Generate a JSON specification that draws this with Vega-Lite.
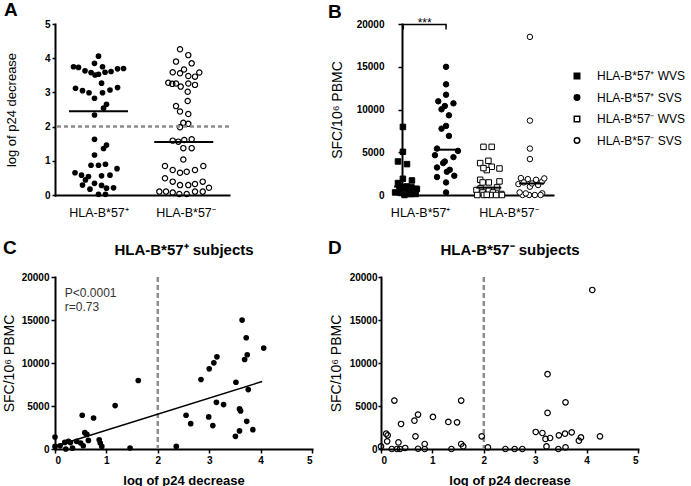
{
  "$schema": "https://vega.github.io/schema/vega-lite/v6.json",
  "padding": {"left": 2, "top": 1, "right": 0, "bottom": 0},
  "bounds": "flush",
  "columns": 2,
  "spacing": {"row": 82, "column": 69},
  "resolve": {"scale": {"fill": "independent", "shape": "independent"}, "legend": {"fill": "independent", "shape": "independent"}},
  "datasets": {
    "a": [
      {"g":"p","v":4.06,"ax":0.5},{"g":"p","v":3.85,"ax":0.454},{"g":"p","v":3.75,"ax":0.546},{"g":"p","v":3.75,"ax":0.213},{"g":"p","v":3.73,"ax":0.27},{"g":"p","v":3.63,"ax":0.345},{"g":"p","v":3.58,"ax":0.414},{"g":"p","v":3.51,"ax":0.46},{"g":"p","v":3.53,"ax":0.5},{"g":"p","v":3.59,"ax":0.575},{"g":"p","v":3.61,"ax":0.644},{"g":"p","v":3.69,"ax":0.719},{"g":"p","v":3.7,"ax":0.788},
      {"g":"p","v":3.12,"ax":0.236},{"g":"p","v":3.05,"ax":0.316},{"g":"p","v":2.99,"ax":0.391},{"g":"p","v":2.83,"ax":0.454},{"g":"p","v":3.27,"ax":0.535},{"g":"p","v":2.99,"ax":0.546},{"g":"p","v":3.07,"ax":0.632},{"g":"p","v":3.14,"ax":0.719},
      {"g":"p","v":2.65,"ax":0.592},{"g":"p","v":2.54,"ax":0.558},{"g":"p","v":2.34,"ax":0.454},
      {"g":"p","v":1.63,"ax":0.454},{"g":"p","v":1.46,"ax":0.592},{"g":"p","v":1.36,"ax":0.558},{"g":"p","v":1.17,"ax":0.454},{"g":"p","v":0.87,"ax":0.414},{"g":"p","v":0.87,"ax":0.5},{"g":"p","v":0.9,"ax":0.58},{"g":"p","v":0.77,"ax":0.713},{"g":"p","v":0.65,"ax":0.23},{"g":"p","v":0.58,"ax":0.305},{"g":"p","v":0.54,"ax":0.385},{"g":"p","v":0.44,"ax":0.35},{"g":"p","v":0.56,"ax":0.535},{"g":"p","v":0.58,"ax":0.632},{"g":"p","v":0.29,"ax":0.316},{"g":"p","v":0.34,"ax":0.454},{"g":"p","v":0.28,"ax":0.535},{"g":"p","v":0.17,"ax":0.402},{"g":"p","v":0.2,"ax":0.592},{"g":"p","v":0.21,"ax":0.673},{"g":"p","v":0.02,"ax":0.5},{"g":"p","v":0.02,"ax":0.58},
      {"g":"n","v":4.26,"ax":1.437},{"g":"n","v":4.09,"ax":1.532},{"g":"n","v":3.9,"ax":1.391},{"g":"n","v":3.85,"ax":1.571},{"g":"n","v":3.67,"ax":1.483},{"g":"n","v":3.59,"ax":1.353},{"g":"n","v":3.56,"ax":1.437},{"g":"n","v":3.48,"ax":1.532},{"g":"n","v":3.46,"ax":1.609},{"g":"n","v":3.58,"ax":1.659},
      {"g":"n","v":3.28,"ax":1.302},{"g":"n","v":3.25,"ax":1.348},{"g":"n","v":3.26,"ax":1.391},{"g":"n","v":3.17,"ax":1.445},{"g":"n","v":3.26,"ax":1.532},{"g":"n","v":3.22,"ax":1.609},{"g":"n","v":3.02,"ax":1.525},{"g":"n","v":2.75,"ax":1.525},{"g":"n","v":2.6,"ax":1.391},{"g":"n","v":2.44,"ax":1.437},{"g":"n","v":2.37,"ax":1.532},{"g":"n","v":2.11,"ax":1.475},{"g":"n","v":2.08,"ax":1.532},{"g":"n","v":1.98,"ax":1.437},
      {"g":"n","v":1.59,"ax":1.353},{"g":"n","v":1.56,"ax":1.417},{"g":"n","v":1.61,"ax":1.486},{"g":"n","v":1.63,"ax":1.571},{"g":"n","v":1.37,"ax":1.475},{"g":"n","v":1.37,"ax":1.571},{"g":"n","v":1.04,"ax":1.475},
      {"g":"n","v":0.85,"ax":1.264},{"g":"n","v":0.73,"ax":1.353},{"g":"n","v":0.65,"ax":1.437},{"g":"n","v":0.68,"ax":1.514},{"g":"n","v":0.73,"ax":1.609},{"g":"n","v":0.85,"ax":1.705},
      {"g":"n","v":0.49,"ax":1.264},{"g":"n","v":0.39,"ax":1.353},{"g":"n","v":0.29,"ax":1.437},{"g":"n","v":0.29,"ax":1.532},{"g":"n","v":0.32,"ax":1.609},{"g":"n","v":0.39,"ax":1.698},{"g":"n","v":0.21,"ax":1.77},
      {"g":"n","v":0.1,"ax":1.199},{"g":"n","v":0.1,"ax":1.276},{"g":"n","v":0.07,"ax":1.353},{"g":"n","v":0.03,"ax":1.429},{"g":"n","v":0.03,"ax":1.514},{"g":"n","v":0.1,"ax":1.609},{"g":"n","v":0.1,"ax":1.698}
    ],
    "sub": [
      {"hla":"+","series":"HLA-B*57⁺ WVS","log":1.62,"sfc":7960,"bx":0.91},
      {"hla":"+","series":"HLA-B*57⁺ WVS","log":1.17,"sfc":5050,"bx":0.91},
      {"hla":"+","series":"HLA-B*57⁺ WVS","log":0.53,"sfc":3920,"bx":0.79},
      {"hla":"+","series":"HLA-B*57⁺ WVS","log":0.75,"sfc":3610,"bx":1.01},
      {"hla":"+","series":"HLA-B*57⁺ WVS","log":0.58,"sfc":1900,"bx":0.91},
      {"hla":"+","series":"HLA-B*57⁺ WVS","log":0.62,"sfc":1700,"bx":1.13},
      {"hla":"+","series":"HLA-B*57⁺ WVS","log":0.0,"sfc":1400,"bx":0.79},
      {"hla":"+","series":"HLA-B*57⁺ WVS","log":0.0,"sfc":300,"bx":0.83},
      {"hla":"+","series":"HLA-B*57⁺ WVS","log":0.1,"sfc":380,"bx":1.08},
      {"hla":"+","series":"HLA-B*57⁺ WVS","log":0.19,"sfc":770,"bx":0.85},
      {"hla":"+","series":"HLA-B*57⁺ WVS","log":0.26,"sfc":890,"bx":1.12},
      {"hla":"+","series":"HLA-B*57⁺ WVS","log":0.21,"sfc":0,"bx":0.95},
      {"hla":"+","series":"HLA-B*57⁺ WVS","log":0.34,"sfc":100,"bx":1.1},
      {"hla":"+","series":"HLA-B*57⁺ WVS","log":0.42,"sfc":890,"bx":0.98},
      {"hla":"+","series":"HLA-B*57⁺ WVS","log":0.5,"sfc":700,"bx":1.25},
      {"hla":"+","series":"HLA-B*57⁺ WVS","log":0.55,"sfc":380,"bx":1.2},
      {"hla":"+","series":"HLA-B*57⁺ WVS","log":0.65,"sfc":1000,"bx":1.0},
      {"hla":"+","series":"HLA-B*57⁺ WVS","log":0.86,"sfc":1080,"bx":0.82},
      {"hla":"+","series":"HLA-B*57⁺ WVS","log":0.88,"sfc":700,"bx":1.05},
      {"hla":"+","series":"HLA-B*57⁺ WVS","log":0.91,"sfc":300,"bx":0.72},
      {"hla":"+","series":"HLA-B*57⁺ WVS","log":1.46,"sfc":120,"bx":1.22},
      {"hla":"+","series":"HLA-B*57⁺ WVS","log":0.3,"sfc":750,"bx":0.92},
      {"hla":"+","series":"HLA-B*57⁺ SVS","log":3.64,"sfc":14990,"bx":1.96},
      {"hla":"+","series":"HLA-B*57⁺ SVS","log":3.72,"sfc":12940,"bx":1.96},
      {"hla":"+","series":"HLA-B*57⁺ SVS","log":4.06,"sfc":11730,"bx":1.96},
      {"hla":"+","series":"HLA-B*57⁺ SVS","log":3.74,"sfc":10960,"bx":1.77},
      {"hla":"+","series":"HLA-B*57⁺ SVS","log":3.69,"sfc":10410,"bx":1.93},
      {"hla":"+","series":"HLA-B*57⁺ SVS","log":3.15,"sfc":10720,"bx":2.14},
      {"hla":"+","series":"HLA-B*57⁺ SVS","log":3.09,"sfc":10020,"bx":1.85},
      {"hla":"+","series":"HLA-B*57⁺ SVS","log":3.0,"sfc":9320,"bx":2.03},
      {"hla":"+","series":"HLA-B*57⁺ SVS","log":2.84,"sfc":8080,"bx":1.96},
      {"hla":"+","series":"HLA-B*57⁺ SVS","log":3.52,"sfc":7760,"bx":1.85},
      {"hla":"+","series":"HLA-B*57⁺ SVS","log":3.76,"sfc":6910,"bx":2.03},
      {"hla":"+","series":"HLA-B*57⁺ SVS","log":3.14,"sfc":5430,"bx":1.74},
      {"hla":"+","series":"HLA-B*57⁺ SVS","log":3.28,"sfc":5160,"bx":2.25},
      {"hla":"+","series":"HLA-B*57⁺ SVS","log":3.59,"sfc":4660,"bx":1.69},
      {"hla":"+","series":"HLA-B*57⁺ SVS","log":3.61,"sfc":4430,"bx":2.14},
      {"hla":"+","series":"HLA-B*57⁺ SVS","log":2.55,"sfc":3920,"bx":1.93},
      {"hla":"+","series":"HLA-B*57⁺ SVS","log":2.99,"sfc":3730,"bx":1.89},
      {"hla":"+","series":"HLA-B*57⁺ SVS","log":3.73,"sfc":3220,"bx":1.74},
      {"hla":"+","series":"HLA-B*57⁺ SVS","log":2.64,"sfc":2950,"bx":2.05},
      {"hla":"+","series":"HLA-B*57⁺ SVS","log":3.07,"sfc":2720,"bx":1.98},
      {"hla":"+","series":"HLA-B*57⁺ SVS","log":3.85,"sfc":2250,"bx":2.16},
      {"hla":"+","series":"HLA-B*57⁺ SVS","log":3.59,"sfc":2100,"bx":1.74},
      {"hla":"+","series":"HLA-B*57⁺ SVS","log":3.51,"sfc":1470,"bx":1.96},
      {"hla":"+","series":"HLA-B*57⁺ SVS","log":2.36,"sfc":300,"bx":1.96},
      {"hla":"-","series":"HLA-B*57⁻ WVS","log":0.26,"sfc":5630,"bx":2.87},
      {"hla":"-","series":"HLA-B*57⁻ WVS","log":1.56,"sfc":5630,"bx":3.07},
      {"hla":"-","series":"HLA-B*57⁻ WVS","log":0.72,"sfc":4000,"bx":2.99},
      {"hla":"-","series":"HLA-B*57⁻ WVS","log":0.65,"sfc":3300,"bx":3.07},
      {"hla":"-","series":"HLA-B*57⁻ WVS","log":0.39,"sfc":2910,"bx":2.95},
      {"hla":"-","series":"HLA-B*57⁻ WVS","log":1.01,"sfc":3730,"bx":2.79},
      {"hla":"-","series":"HLA-B*57⁻ WVS","log":1.31,"sfc":3150,"bx":2.87},
      {"hla":"-","series":"HLA-B*57⁻ WVS","log":1.48,"sfc":3100,"bx":3.26},
      {"hla":"-","series":"HLA-B*57⁻ WVS","log":0.67,"sfc":1470,"bx":3.0},
      {"hla":"-","series":"HLA-B*57⁻ WVS","log":0.1,"sfc":1780,"bx":2.79},
      {"hla":"-","series":"HLA-B*57⁻ WVS","log":0.13,"sfc":1590,"bx":3.26},
      {"hla":"-","series":"HLA-B*57⁻ WVS","log":0.12,"sfc":890,"bx":3.2},
      {"hla":"-","series":"HLA-B*57⁻ WVS","log":0.34,"sfc":770,"bx":2.8},
      {"hla":"-","series":"HLA-B*57⁻ WVS","log":0.85,"sfc":580,"bx":3.0},
      {"hla":"-","series":"HLA-B*57⁻ WVS","log":1.56,"sfc":580,"bx":2.7},
      {"hla":"-","series":"HLA-B*57⁻ WVS","log":1.6,"sfc":300,"bx":3.1},
      {"hla":"-","series":"HLA-B*57⁻ WVS","log":1.96,"sfc":1470,"bx":2.85},
      {"hla":"-","series":"HLA-B*57⁻ WVS","log":0.0,"sfc":300,"bx":2.85},
      {"hla":"-","series":"HLA-B*57⁻ WVS","log":0.21,"sfc":0,"bx":2.72},
      {"hla":"-","series":"HLA-B*57⁻ WVS","log":0.31,"sfc":0,"bx":2.88},
      {"hla":"-","series":"HLA-B*57⁻ WVS","log":0.37,"sfc":0,"bx":3.04},
      {"hla":"-","series":"HLA-B*57⁻ WVS","log":0.47,"sfc":120,"bx":3.3},
      {"hla":"-","series":"HLA-B*57⁻ WVS","log":0.72,"sfc":30,"bx":2.95},
      {"hla":"-","series":"HLA-B*57⁻ WVS","log":0.85,"sfc":0,"bx":3.18},
      {"hla":"-","series":"HLA-B*57⁻ WVS","log":1.37,"sfc":0,"bx":3.32},
      {"hla":"-","series":"HLA-B*57⁻ SVS","log":2.08,"sfc":190,"bx":4.3},
      {"hla":"-","series":"HLA-B*57⁻ SVS","log":2.42,"sfc":0,"bx":3.82},
      {"hla":"-","series":"HLA-B*57⁻ SVS","log":2.6,"sfc":0,"bx":3.98},
      {"hla":"-","series":"HLA-B*57⁻ SVS","log":2.75,"sfc":0,"bx":4.12},
      {"hla":"-","series":"HLA-B*57⁻ SVS","log":4.11,"sfc":18490,"bx":4.0},
      {"hla":"-","series":"HLA-B*57⁻ SVS","log":3.24,"sfc":8700,"bx":4.0},
      {"hla":"-","series":"HLA-B*57⁻ SVS","log":3.59,"sfc":5430,"bx":4.0},
      {"hla":"-","series":"HLA-B*57⁻ SVS","log":3.24,"sfc":4200,"bx":4.0},
      {"hla":"-","series":"HLA-B*57⁻ SVS","log":3.01,"sfc":1980,"bx":3.78},
      {"hla":"-","series":"HLA-B*57⁻ SVS","log":3.14,"sfc":1860,"bx":3.95},
      {"hla":"-","series":"HLA-B*57⁻ SVS","log":3.2,"sfc":1170,"bx":4.2},
      {"hla":"-","series":"HLA-B*57⁻ SVS","log":3.29,"sfc":1280,"bx":3.72},
      {"hla":"-","series":"HLA-B*57⁻ SVS","log":3.46,"sfc":1590,"bx":4.3},
      {"hla":"-","series":"HLA-B*57⁻ SVS","log":3.58,"sfc":1780,"bx":4.15},
      {"hla":"-","series":"HLA-B*57⁻ SVS","log":3.71,"sfc":1940,"bx":4.35},
      {"hla":"-","series":"HLA-B*57⁻ SVS","log":3.85,"sfc":970,"bx":4.0},
      {"hla":"-","series":"HLA-B*57⁻ SVS","log":3.89,"sfc":1350,"bx":4.05},
      {"hla":"-","series":"HLA-B*57⁻ SVS","log":4.26,"sfc":1470,"bx":3.85},
      {"hla":"-","series":"HLA-B*57⁻ SVS","log":3.22,"sfc":300,"bx":3.75},
      {"hla":"-","series":"HLA-B*57⁻ SVS","log":3.59,"sfc":190,"bx":3.9},
      {"hla":"-","series":"HLA-B*57⁻ SVS","log":3.45,"sfc":0,"bx":4.26}
    ]
  },
  "concat": [
    {
      "width": 174, "height": 171,
      "title": {"text": "A", "dx": -51, "dy": 5},
      "layer": [
        {"data": {"name": "a"}, "transform": [{"filter": "datum.g == 'p'"}],
         "mark": {"type": "circle", "color": "black", "opacity": 1, "size": 32},
         "encoding": {
           "x": {"field": "ax", "type": "quantitative", "scale": {"domain": [0, 2], "nice": false}, "title": null,
                 "axis": {"values": [0.5, 1.5], "labelExpr": "datum.value < 1 ? 'HLA-B*57⁺' : 'HLA-B*57⁻'", "ticks": false, "labelFontWeight": "normal", "labelFontSize": 12.5, "labelPadding": 11, "labelFlush": false}},
           "y": {"field": "v", "type": "quantitative", "scale": {"domain": [0, 5], "nice": false}, "title": "log of p24 decrease",
                 "axis": {"values": [0, 1, 2, 3, 4, 5], "tickCount": 6, "labelOverlap": false, "tickSize": 3, "labelPadding": 2, "titleFontSize": 13, "titlePadding": 26}}}},
        {"data": {"name": "a"}, "transform": [{"filter": "datum.g == 'n'"}],
         "mark": {"type": "point", "shape": "circle", "filled": false, "color": "black", "strokeWidth": 1.2, "opacity": 1, "size": 28},
         "encoding": {"x": {"field": "ax", "type": "quantitative", "title": null}, "y": {"field": "v", "type": "quantitative", "title": "log of p24 decrease"}}},
        {"data": {"values": [{"t": 2}]},
         "mark": {"type": "rule", "color": "#8c8c8c", "strokeWidth": 2.5, "strokeDash": [4, 3]},
         "encoding": {"y": {"field": "t", "type": "quantitative", "title": "log of p24 decrease"}}},
        {"data": {"values": [{"mx": 0.5, "mv": 2.45}, {"mx": 1.48, "mv": 1.55}]},
         "mark": {"type": "tick", "orient": "horizontal", "size": 59, "thickness": 2, "color": "black", "opacity": 1},
         "encoding": {"x": {"field": "mx", "type": "quantitative", "title": null}, "y": {"field": "mv", "type": "quantitative", "title": "log of p24 decrease"}}}
      ]
    },
    {
      "width": 172, "height": 171,
      "title": {"text": "B", "dx": -53, "dy": 9},
      "layer": [
        {"data": {"name": "sub"},
         "mark": {"type": "point", "filled": true, "stroke": "black", "strokeWidth": 1, "opacity": 1, "size": 30},
         "encoding": {
           "x": {"field": "bx", "type": "quantitative", "scale": {"domain": [0.888, 4.562], "range": [21, 172], "nice": false, "zero": false}, "title": null,
                 "axis": {"values": [1.33, 3.48], "labelExpr": "datum.value < 2 ? 'HLA-B*57⁺' : 'HLA-B*57⁻'", "ticks": false, "labelFontWeight": "normal", "labelFontSize": 12.5, "labelPadding": 11, "labelFlush": false}},
           "y": {"field": "sfc", "type": "quantitative", "scale": {"domain": [0, 20000], "nice": false}, "title": "SFC/10⁶ PBMC",
                 "axis": {"offset": -21, "values": [0, 5000, 10000, 15000, 20000], "format": "d", "tickSize": 4, "labelPadding": 14, "titleFontSize": 14, "titlePadding": 12}},
           "shape": {"field": "series", "type": "nominal",
                     "scale": {"domain": ["HLA-B*57⁺ WVS", "HLA-B*57⁺ SVS", "HLA-B*57⁻ WVS", "HLA-B*57⁻ SVS"], "range": ["square", "circle", "square", "circle"]},
                     "legend": {"title": null, "orient": "none", "legendX": 190, "legendY": 46, "padding": 0, "symbolSize": 30, "labelFontSize": 12, "labelFont": "Liberation Sans", "labelColor": "black", "rowPadding": 9.5, "labelOffset": 14,
                                "encode": {"symbols": {"update": {"stroke": {"value": "black"}, "strokeWidth": {"value": 1}}}}}},
           "fill": {"field": "series", "type": "nominal",
                    "scale": {"domain": ["HLA-B*57⁺ WVS", "HLA-B*57⁺ SVS", "HLA-B*57⁻ WVS", "HLA-B*57⁻ SVS"], "range": ["black", "black", "white", "white"]},
                    "legend": {"title": null, "orient": "none", "legendX": 190, "legendY": 46, "padding": 0, "symbolSize": 30, "labelFontSize": 12, "labelFont": "Liberation Sans", "labelColor": "black", "rowPadding": 9.5, "labelOffset": 14,
                               "encode": {"symbols": {"update": {"stroke": {"value": "black"}, "strokeWidth": {"value": 1}}}}}}
         }},
        {"data": {"values": [{"mx": 1.0, "mv": 980}, {"mx": 1.98, "mv": 5300}, {"mx": 3.0, "mv": 860}, {"mx": 4.04, "mv": 1350}]},
         "mark": {"type": "tick", "orient": "horizontal", "size": 25, "thickness": 2, "color": "black", "opacity": 1},
         "encoding": {"x": {"field": "mx", "type": "quantitative", "title": null}, "y": {"field": "mv", "type": "quantitative", "title": "SFC/10⁶ PBMC"}}},
        {"data": {"values": [{"px": 0.92, "py": 19350, "o": 1}, {"px": 0.92, "py": 19930, "o": 2}, {"px": 1.96, "py": 19930, "o": 3}, {"px": 1.96, "py": 19350, "o": 4}]},
         "mark": {"type": "line", "color": "black", "strokeWidth": 1.5},
         "encoding": {"x": {"field": "px", "type": "quantitative", "title": null}, "y": {"field": "py", "type": "quantitative", "title": "SFC/10⁶ PBMC"}, "order": {"field": "o"}}},
        {"data": {"values": [{"px": 1.44, "py": 19700, "txt": "***"}]},
         "mark": {"type": "text", "fontSize": 12, "align": "center", "baseline": "alphabetic", "color": "black", "font": "Liberation Sans"},
         "encoding": {"x": {"field": "px", "type": "quantitative", "title": null}, "y": {"field": "py", "type": "quantitative", "title": "SFC/10⁶ PBMC"}, "text": {"field": "txt"}}}
      ]
    },
    {
      "width": 257, "height": 172,
      "title": {"text": "C", "dx": -52, "dy": 19},
      "resolve": {"axis": {"x": "independent"}},
      "layer": [
        {"data": {"values": [{"t": 2}]},
         "mark": {"type": "rule", "color": "#8c8c8c", "strokeWidth": 2.5, "strokeDash": [5, 3]},
         "encoding": {"x": {"field": "t", "type": "quantitative", "scale": {"domain": [0, 5], "nice": false}, "title": "HLA-B*57⁺ subjects",
                            "axis": {"orient": "top", "labels": false, "ticks": false, "domain": false, "titleFontSize": 15, "titleFontWeight": "bold", "titlePadding": 19.5}}}},
        {"data": {"values": [{"lx": 0, "ly": 310}, {"lx": 4.03, "ly": 7850}]},
         "mark": {"type": "line", "color": "black", "strokeWidth": 1.5},
         "encoding": {"x": {"field": "lx", "type": "quantitative", "axis": null}, "y": {"field": "ly", "type": "quantitative", "title": "SFC/10⁶ PBMC"}}},
        {"data": {"name": "sub"}, "transform": [{"filter": "datum.hla == '+'"}],
         "mark": {"type": "circle", "color": "black", "opacity": 1, "size": 32},
         "encoding": {
           "x": {"field": "log", "type": "quantitative", "title": "log of p24 decrease",
                 "axis": {"values": [0, 1, 2, 3, 4, 5], "tickSize": 4, "labelPadding": 2, "titleFontSize": 13, "titleFontWeight": "bold", "titlePadding": 9}},
           "y": {"field": "sfc", "type": "quantitative", "scale": {"domain": [0, 20000], "nice": false}, "title": "SFC/10⁶ PBMC",
                 "axis": {"values": [0, 5000, 10000, 15000, 20000], "format": "d", "tickSize": 4, "labelPadding": 2, "titleFontSize": 14, "titlePadding": 5}}}},
        {"data": {"values": [{"tx": 0.19, "ty": 18100, "txt": "P<0.0001"}, {"tx": 0.19, "ty": 16530, "txt": "r=0.73"}]},
         "mark": {"type": "text", "align": "left", "baseline": "middle", "fontSize": 12, "color": "#333333", "font": "Liberation Sans"},
         "encoding": {"x": {"field": "tx", "type": "quantitative", "axis": null}, "y": {"field": "ty", "type": "quantitative", "title": "SFC/10⁶ PBMC"}, "text": {"field": "txt"}}}
      ]
    },
    {
      "width": 257, "height": 172,
      "title": {"text": "D", "dx": -53, "dy": 19},
      "resolve": {"axis": {"x": "independent"}},
      "layer": [
        {"data": {"values": [{"t": 2}]},
         "mark": {"type": "rule", "color": "#8c8c8c", "strokeWidth": 2.5, "strokeDash": [5, 3]},
         "encoding": {"x": {"field": "t", "type": "quantitative", "scale": {"domain": [0, 5], "nice": false}, "title": "HLA-B*57⁻ subjects",
                            "axis": {"orient": "top", "labels": false, "ticks": false, "domain": false, "titleFontSize": 15, "titleFontWeight": "bold", "titlePadding": 19.5}}}},
        {"data": {"name": "sub"}, "transform": [{"filter": "datum.hla == '-'"}],
         "mark": {"type": "point", "shape": "circle", "filled": false, "color": "black", "strokeWidth": 1.2, "opacity": 1, "size": 30},
         "encoding": {
           "x": {"field": "log", "type": "quantitative", "title": "log of p24 decrease",
                 "axis": {"values": [0, 1, 2, 3, 4, 5], "tickSize": 4, "labelPadding": 2, "titleFontSize": 13, "titleFontWeight": "bold", "titlePadding": 9}},
           "y": {"field": "sfc", "type": "quantitative", "scale": {"domain": [0, 20000], "nice": false}, "title": "SFC/10⁶ PBMC",
                 "axis": {"values": [0, 5000, 10000, 15000, 20000], "format": "d", "tickSize": 3, "labelPadding": 1, "titleFontSize": 14, "titlePadding": 6}}}}
      ]
    }
  ],
  "config": {
    "view": {"stroke": null},
    "font": "Liberation Sans",
    "axis": {"domainColor": "black", "domainWidth": 2, "domainCap": "square", "tickColor": "black", "tickWidth": 1.5, "labelColor": "black", "labelFont": "Liberation Sans", "labelFontSize": 10, "labelFontWeight": "bold", "titleColor": "black", "titleFont": "Liberation Sans", "titleFontWeight": "normal", "grid": false, "labelOverlap": false},
    "title": {"font": "Liberation Sans", "fontSize": 19, "fontWeight": "bold", "anchor": "start", "frame": "group", "offset": 0, "color": "black"}
  }
}
